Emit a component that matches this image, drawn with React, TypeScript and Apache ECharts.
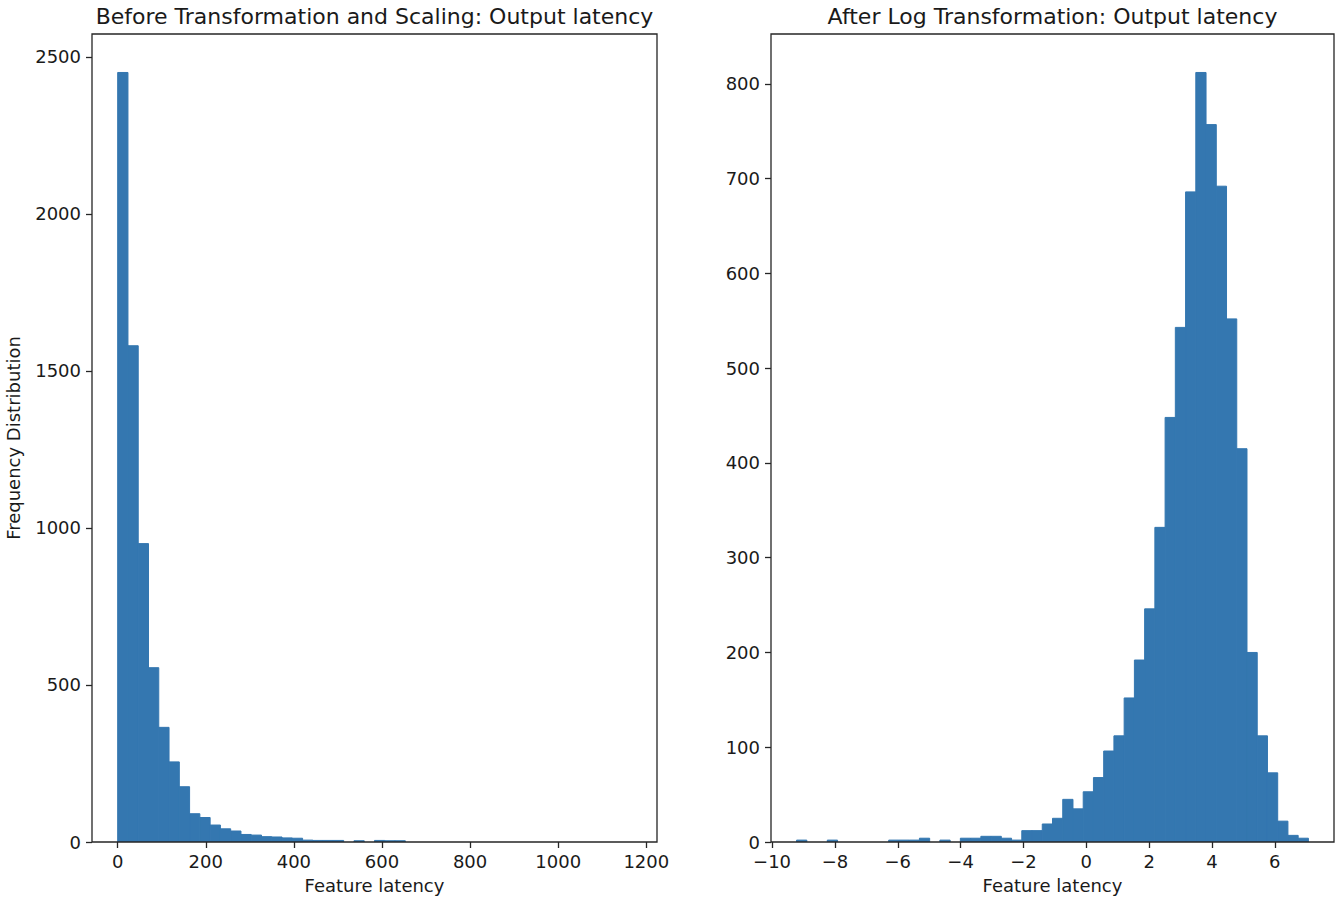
import React, { useEffect, useRef } from "react";
import * as echarts from "echarts";

const leftTitle = "Before Transformation and Scaling: Output latency";
const rightTitle = "After Log Transformation: Output latency";
const xAxisLabel = "Feature latency";
const yAxisLabel = "Frequency Distribution";

// histogram data range (first edge, last edge) and counts per bin (50 bins)
const leftRange = [0, 1166];
const leftCounts = [
  2450, 1580, 950, 555, 365, 255, 176, 90, 78, 54,
  42, 35, 24, 22, 17, 16, 13, 12, 6, 5,
  5, 5, 0, 4, 0, 5, 4, 4, 0, 0,
  0, 0, 0, 0, 0, 0, 0, 0, 0, 0,
  0, 0, 0, 0, 0, 0, 0, 0, 0, 0,
];

const rightRange = [-9.22, 7.07];
const rightCounts = [
  2, 0, 0, 2, 0, 0, 0, 0, 0, 2,
  2, 2, 4, 0, 2, 0, 4, 4, 6, 6,
  4, 2, 12, 12, 19, 25, 45, 35, 53, 68,
  96, 112, 152, 192, 246, 332, 448, 543, 686, 812,
  757, 692, 552, 415, 200, 112, 73, 22, 7, 4,
];

const leftXTicks = [0, 200, 400, 600, 800, 1000, 1200];
const leftYTicks = [0, 500, 1000, 1500, 2000, 2500];
const rightXTicks = [-10, -8, -6, -4, -2, 0, 2, 4, 6];
const rightYTicks = [0, 100, 200, 300, 400, 500, 600, 700, 800];

const barColor = "#3477b0";
const inkColor = "#1a1a1a";
const frameColor = "#262626";
const fontFamily = "DejaVu Sans";

function toBins(range: number[], counts: number[]) {
  const w = (range[1] - range[0]) / counts.length;
  return counts.map((c, i) => [range[0] + i * w, range[0] + (i + 1) * w, c]);
}

function padded(range: number[]) {
  const span = range[1] - range[0];
  return [range[0] - 0.05 * span, range[1] + 0.05 * span];
}

const fmt = (v: number) => (v < 0 ? "\u2212" + Math.abs(v) : String(v));

export default function App() {
  const ref = useRef<HTMLDivElement>(null);

  useEffect(() => {
    document.body.style.margin = "0";
    if (!ref.current) return;
    const chart = echarts.init(ref.current, undefined, { renderer: "svg" });

    const leftX = padded(leftRange);
    const rightX = padded(rightRange);
    const leftYMax = Math.max(...leftCounts) * 1.05;
    const rightYMax = Math.max(...rightCounts) * 1.05;

    const tickLabel = { color: inkColor, fontFamily, fontSize: 18 };
    const axisTick = (vals: number[]) => ({
      show: true,
      inside: false,
      length: 6,
      lineStyle: { color: frameColor, width: 1.3 },
      customValues: vals,
    });

    const makeX = (grid: number, ext: number[], ticks: number[]) => ({
      type: "value",
      gridIndex: grid,
      min: ext[0],
      max: ext[1],
      z: 5,
      splitLine: { show: false },
      axisLine: { show: false, onZero: false },
      axisTick: axisTick(ticks),
      axisLabel: { ...tickLabel, margin: 10, customValues: ticks, formatter: fmt },
      name: xAxisLabel,
      nameLocation: "middle",
      nameGap: 34,
      nameTextStyle: { color: inkColor, fontFamily, fontSize: 18 },
    });

    const makeY = (grid: number, max: number, ticks: number[], withName: boolean) => ({
      type: "value",
      gridIndex: grid,
      min: 0,
      max,
      z: 5,
      splitLine: { show: false },
      axisLine: { show: false, onZero: false },
      axisTick: axisTick(ticks),
      axisLabel: { ...tickLabel, margin: 11, customValues: ticks, formatter: fmt },
      ...(withName
        ? {
            name: yAxisLabel,
            nameLocation: "middle",
            nameRotate: 90,
            nameGap: 70,
            nameTextStyle: { color: inkColor, fontFamily, fontSize: 18 },
          }
        : {}),
    });

    const histSeries = (idx: number, data: number[][]) => ({
      type: "custom",
      xAxisIndex: idx,
      yAxisIndex: idx,
      z: 1,
      clip: true,
      encode: { x: [0, 1], y: 2 },
      data,
      renderItem: (_params: any, api: any) => {
        const x0 = api.value(0);
        const x1 = api.value(1);
        const c = api.value(2);
        if (!c) return null;
        const p0 = api.coord([x0, c]);
        const p1 = api.coord([x1, 0]);
        return {
          type: "rect",
          shape: { x: p0[0], y: p0[1], width: p1[0] - p0[0], height: p1[1] - p0[1] },
          style: { fill: barColor, stroke: barColor, lineWidth: 1 },
        };
      },
    });

    const gridBase = {
      top: 34,
      height: 808,
      show: true,
      borderColor: frameColor,
      borderWidth: 1.3,
      backgroundColor: "transparent",
      z: 10,
    };

    chart.setOption({
      animation: false,
      backgroundColor: "#ffffff",
      grid: [
        { ...gridBase, left: 92, width: 565 },
        { ...gridBase, left: 771, width: 563 },
      ],
      xAxis: [makeX(0, leftX, leftXTicks), makeX(1, rightX, rightXTicks)],
      yAxis: [makeY(0, leftYMax, leftYTicks, true), makeY(1, rightYMax, rightYTicks, false)],
      series: [histSeries(0, toBins(leftRange, leftCounts)), histSeries(1, toBins(rightRange, rightCounts))],
      graphic: [
        {
          type: "text",
          x: 374.5,
          y: 16,
          style: {
            text: leftTitle,
            fill: inkColor,
            font: `22px "${fontFamily}"`,
            align: "center",
            verticalAlign: "middle",
          },
        },
        {
          type: "text",
          x: 1052.5,
          y: 16,
          style: {
            text: rightTitle,
            fill: inkColor,
            font: `22px "${fontFamily}"`,
            align: "center",
            verticalAlign: "middle",
          },
        },
      ],
    });

    return () => chart.dispose();
  }, []);

  return <div ref={ref} style={{ width: 1337, height: 901 }} />;
}
